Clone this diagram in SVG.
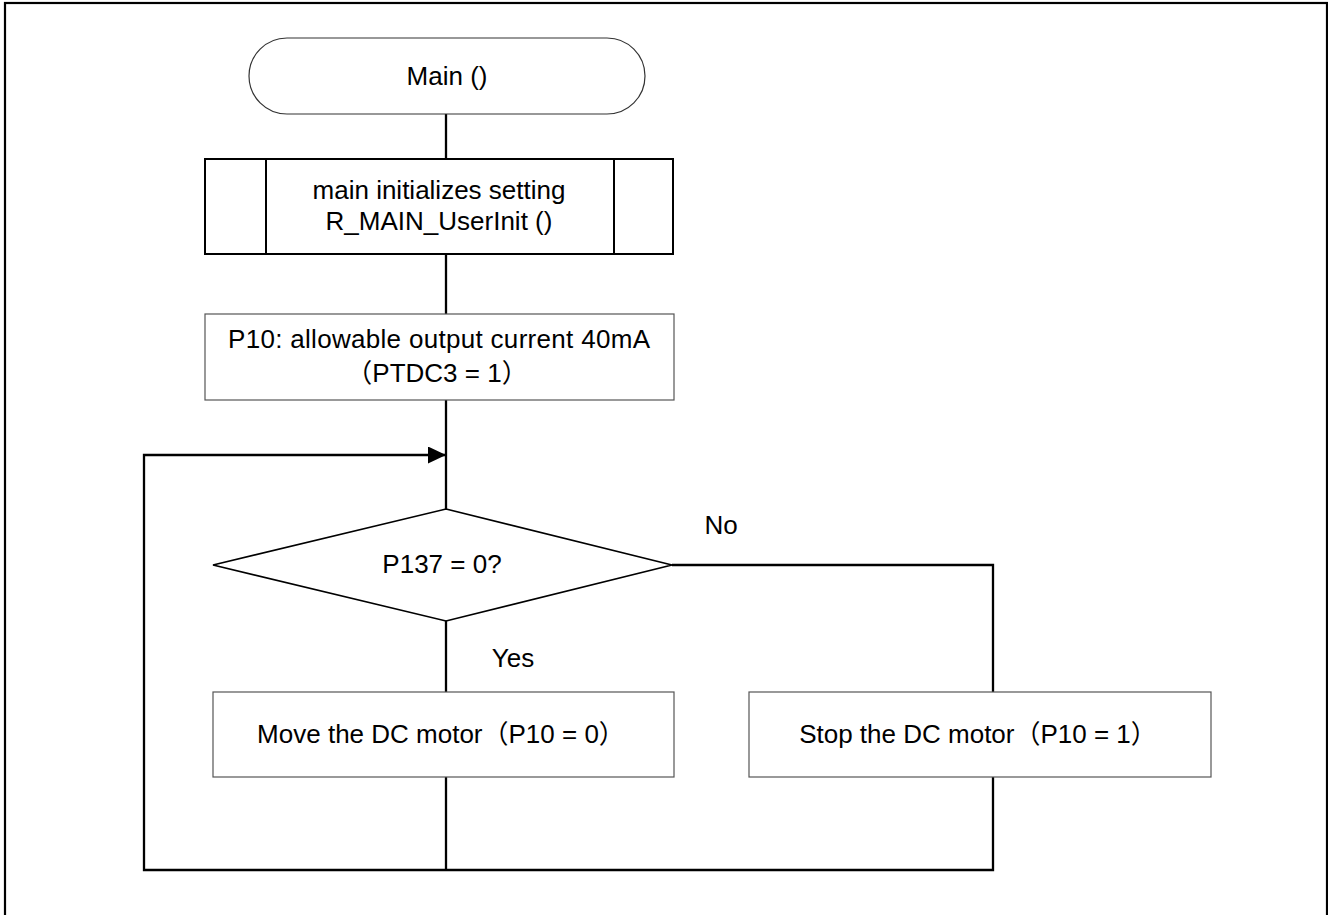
<svg xmlns="http://www.w3.org/2000/svg" width="1328" height="915" viewBox="0 0 1328 915">
<style>
.t{font-family:"Liberation Sans",Arial,"Noto Sans CJK JP",sans-serif;font-size:26px;fill:#000;text-anchor:middle}
.box{fill:#fff;stroke:#555;stroke-width:1.2}
.conn{fill:none;stroke:#000;stroke-width:2.3}
</style>
<defs>
<marker id="arr" markerWidth="18" markerHeight="17" refX="18" refY="8.5" orient="auto" markerUnits="userSpaceOnUse">
<path d="M0,0 L18,8.5 L0,17 Z" fill="#000"/>
</marker>
</defs>
<rect x="0" y="0" width="1328" height="915" fill="#fff"/>
<rect x="5" y="3" width="1322" height="930" fill="none" stroke="#000" stroke-width="2.2"/>
<g id="connectors">
<line class="conn" x1="446" y1="114" x2="446" y2="159"/>
<line class="conn" x1="446" y1="254" x2="446" y2="314"/>
<line class="conn" x1="446" y1="400" x2="446" y2="509"/>
<line class="conn" x1="446" y1="621" x2="446" y2="692"/>
<line class="conn" x1="446" y1="777" x2="446" y2="870"/>
<polyline class="conn" points="672,565 993,565 993,692"/>
<polyline class="conn" points="993,777 993,870 144,870 144,455 446,455" marker-end="url(#arr)"/>
</g>
<g id="start">
<rect x="249" y="38" width="396" height="76" rx="38" ry="38" fill="#fff" stroke="#333" stroke-width="1.2"/>
<text class="t" x="447" y="85">Main ()</text>
</g>
<g id="init">
<rect x="205" y="159" width="468" height="95" fill="#fff" stroke="#000" stroke-width="2"/>
<line x1="266" y1="159" x2="266" y2="254" stroke="#000" stroke-width="2"/>
<line x1="614" y1="159" x2="614" y2="254" stroke="#000" stroke-width="2"/>
<text class="t" x="439" y="199">main initializes setting</text>
<text class="t" x="439" y="230">R_MAIN_UserInit ()</text>
</g>
<g id="ptdc">
<rect class="box" x="205" y="314" width="469" height="86"/>
<text class="t" x="439" y="348" textLength="422">P10: allowable output current 40mA</text>
<text class="t" x="437" y="382">（PTDC3 = 1）</text>
</g>
<g id="decision">
<polygon points="446,509 672,565 446,621 213,565" fill="#fff" stroke="#000" stroke-width="1.6"/>
<text class="t" x="442" y="573">P137 = 0?</text>
</g>
<g id="labels">
<text class="t" x="721" y="534">No</text>
<text class="t" x="513" y="667">Yes</text>
</g>
<g id="move">
<rect class="box" x="213" y="692" width="461" height="85"/>
<text class="t" x="441" y="743">Move the DC motor（P10 = 0）</text>
</g>
<g id="stop">
<rect class="box" x="749" y="692" width="462" height="85"/>
<text class="t" x="978" y="743">Stop the DC motor（P10 = 1）</text>
</g>
</svg>
